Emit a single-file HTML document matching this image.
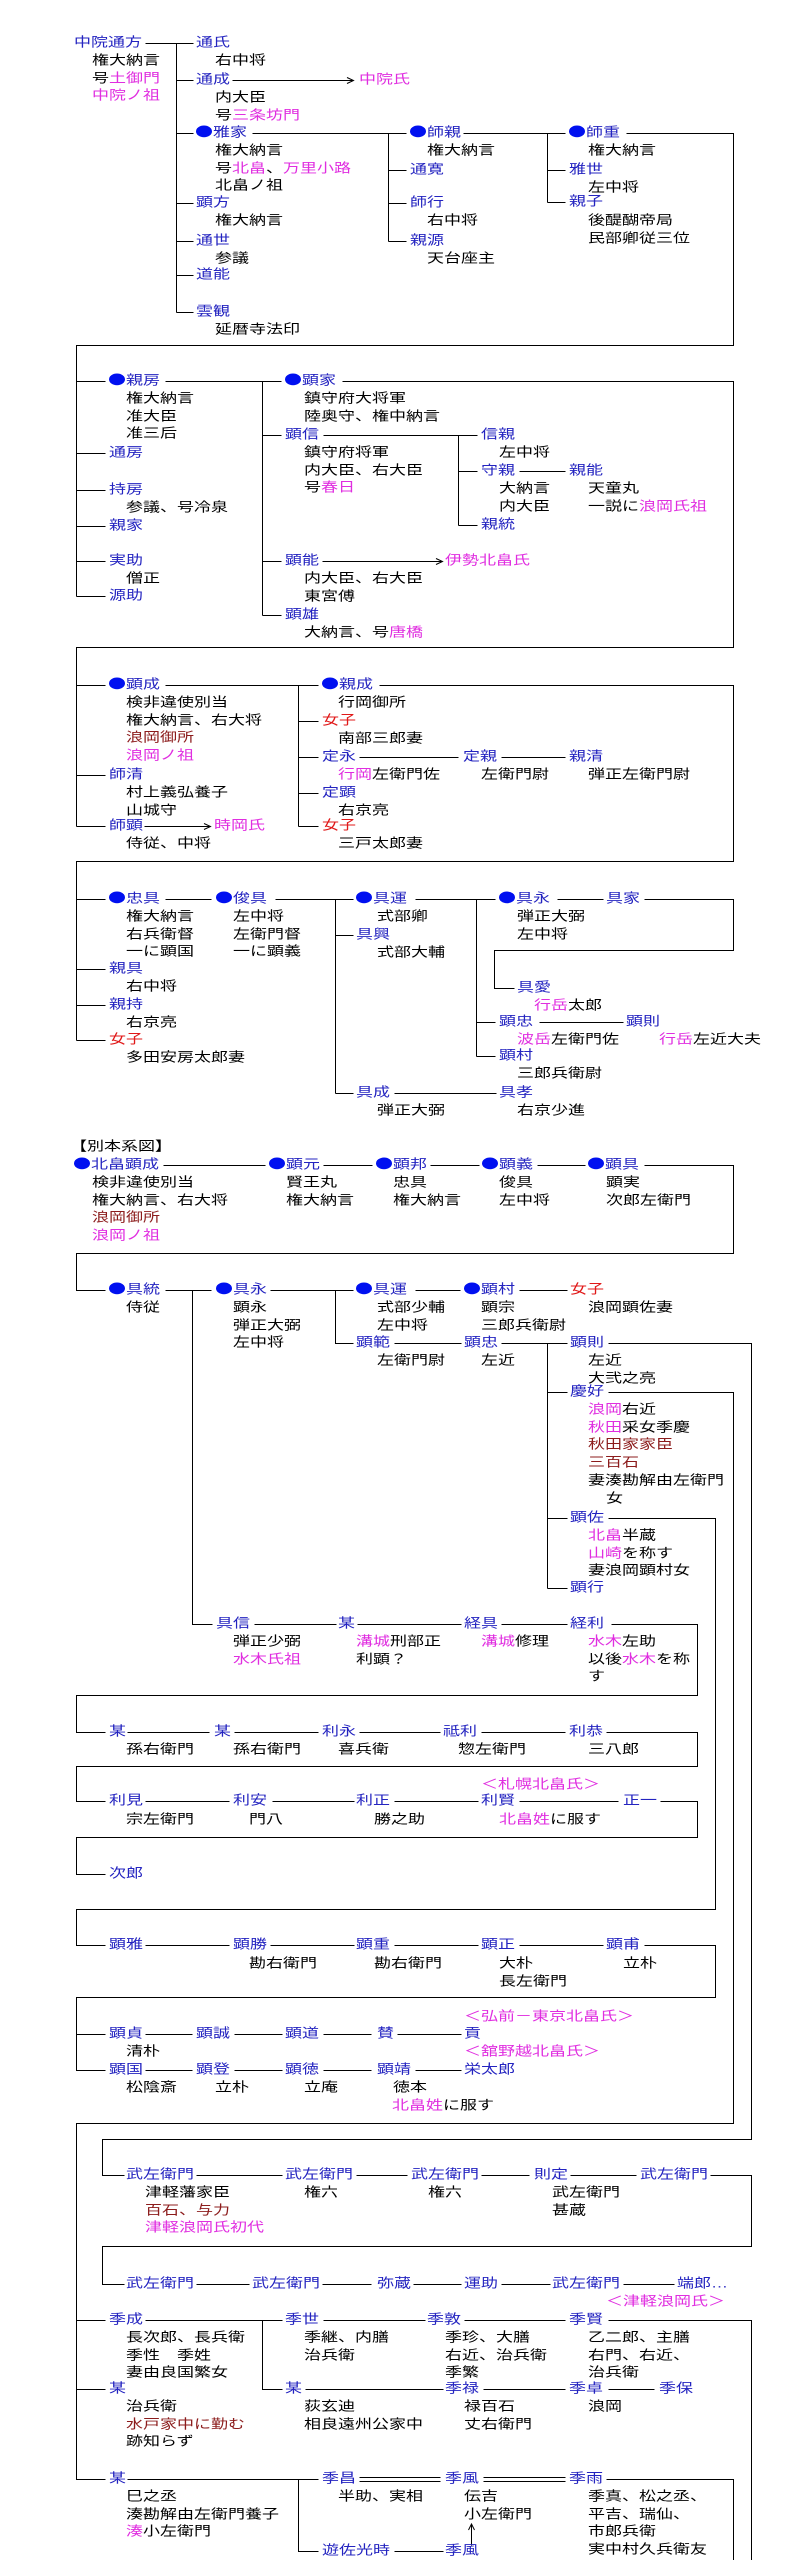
<!DOCTYPE html>
<html><head><meta charset="utf-8">
<style>
html,body{margin:0;padding:0;background:#fff}
#c{position:relative;width:794px;height:2560px;overflow:hidden;background:#fff}
svg{position:absolute;left:0;top:0}
.t{position:absolute;font-size:17px;line-height:22.7px;font-family:"Liberation Sans","Noto Sans CJK JP",sans-serif;transform:scaleY(.78);transform-origin:0 0;white-space:nowrap;color:#000}
.b{color:#2424c0}
.m{color:#e02ee0}
.r{color:#e01818}
.d{color:#8c1c1c}
span.m{color:#e02ee0}
span.d{color:#8c1c1c}
i.o{display:inline-block;width:16px;height:15px;border-radius:50%;background:#0010f0;vertical-align:-1px;margin-right:1px}
</style></head>
<body><div id="c">
<svg width="794" height="2560" viewBox="0 0 794 2560">
<g transform="translate(.5 .5)" stroke="#000" stroke-width="1" fill="none" shape-rendering="crispEdges">
<path d="M145 43H193 M176 43V312 M176 80H193 M176 133H193 M176 203H193 M176 241H193 M176 275H193 M176 312H193
M232 80H353
M252 133H406 M388 133V241 M388 170H406 M388 203H406 M388 241H406
M463 133H565 M547 133V202 M547 170H565 M547 202H565
M626 133H733V345H76V596
M76 381H105 M76 453H105 M76 490H105 M76 526H105 M76 561H105 M76 596H105
M165 381H281 M262 381V615 M262 435H281 M262 561H281 M262 615H281
M342 381H733V647H76V826
M323 435H477 M458 435V525 M458 471H477 M458 525H477
M519 471H565
M322 561H442
M76 685H105 M76 775H105 M76 826H105
M165 685H318 M298 685V826 M298 721H318 M298 757H318 M298 793H318 M298 826H318
M144 826H210
M379 685H733V861H76V1040
M359 757H458 M501 757H565
M76 899H105 M76 969H105 M76 1005H105 M76 1040H105
M165 899H211
M275 899H353 M335 899V1093 M335 935H353 M335 1093H353
M415 899H495 M476 899V1056 M476 1022H495 M476 1056H495
M557 899H603
M644 899H733V950H494V988H514
M539 1022H623
M394 1093H496
M163 1165H265 M323 1165H372 M430 1165H479 M537 1165H585 M644 1165H733V1253H76V1290H105
M165 1290H211 M192 1290V1624H212 M270 1290H353 M335 1290V1343H353 M415 1290H460 M519 1290H567
M394 1343H461 M501 1343H567 M547 1343V1588 M547 1392H567 M547 1518H567 M547 1588H567
M608 1343H751V2139H102V2175H124
M608 1392H733V2123H76V2479H105
M608 1518H715V1909H76V1945H105
M254 1624H336 M357 1624H461 M501 1624H567 M611 1624H697V1695H76V1732H105
M127 1732H209 M234 1732H318 M359 1732H440 M481 1732H565 M606 1732H697V1766H76V1801H105
M145 1801H229 M272 1801H354 M394 1801H478 M519 1801H618 M660 1801H697V1837H76V1874H105
M145 1945H229 M270 1945H354 M394 1945H478 M519 1945H603 M644 1945H715V1997H76V2070H105 M76 2034H105
M145 2034H192 M234 2034H282 M323 2034H371 M397 2034H461
M145 2070H192 M234 2070H282 M323 2070H371 M415 2070H461
M196 2175H282 M356 2175H407 M481 2175H529 M570 2175H636 M710 2175H751V2246H102V2284H124
M196 2284H249 M322 2284H371 M413 2284H461 M501 2284H550 M623 2284H674
M76 2320H105 M145 2320H282 M262 2320V2389H282 M323 2320H425 M464 2320H565 M608 2320H751V2560
M76 2389H105 M305 2389H443 M483 2389H565 M608 2389H654
M76 2479H105
M127 2479H318 M298 2479V2551H318
M359 2477H440 M359 2481H440 M483 2477H565 M483 2481H565
M606 2479H733V2560
M394 2551H443
M471 2545V2524"/>
</g>
<g stroke="#000" stroke-width="1" fill="none">
<path d="M347 77.5L353.5 80.5L347 83.5"/>
<path d="M436 558.5L442.5 561.5L436 564.5"/>
<path d="M204 823.5L210.5 826.5L204 829.5"/>
<path d="M468.5 2530L471.5 2524L474.5 2530"/>
</g>
</svg>

<!-- Section 1 -->
<div class="t b" style="left:74px;top:34px">中院通方</div>
<div class="t" style="left:92px;top:52px">権大納言<br>号<span class="m">土御門</span><br><span class="m">中院ノ祖</span></div>
<div class="t b" style="left:196px;top:34px">通氏</div>
<div class="t" style="left:215px;top:52px">右中将</div>
<div class="t b" style="left:196px;top:71px">通成</div>
<div class="t" style="left:215px;top:89px">内大臣<br>号<span class="m">三条坊門</span></div>
<div class="t m" style="left:359px;top:71px">中院氏</div>
<div class="t b" style="left:196px;top:124px"><i class="o"></i>雅家</div>
<div class="t" style="left:215px;top:142px">権大納言<br>号<span class="m">北畠</span>、<span class="m">万里小路</span><br>北畠ノ祖</div>
<div class="t b" style="left:196px;top:194px">顕方</div>
<div class="t" style="left:215px;top:212px">権大納言</div>
<div class="t b" style="left:196px;top:232px">通世</div>
<div class="t" style="left:215px;top:250px">参議</div>
<div class="t b" style="left:196px;top:266px">道能</div>
<div class="t b" style="left:196px;top:303px">雲観</div>
<div class="t" style="left:215px;top:321px">延暦寺法印</div>
<div class="t b" style="left:410px;top:124px"><i class="o"></i>師親</div>
<div class="t" style="left:427px;top:142px">権大納言</div>
<div class="t b" style="left:410px;top:161px">通寛</div>
<div class="t b" style="left:410px;top:194px">師行</div>
<div class="t" style="left:427px;top:212px">右中将</div>
<div class="t b" style="left:410px;top:232px">親源</div>
<div class="t" style="left:427px;top:250px">天台座主</div>
<div class="t b" style="left:569px;top:124px"><i class="o"></i>師重</div>
<div class="t" style="left:588px;top:142px">権大納言</div>
<div class="t b" style="left:569px;top:161px">雅世</div>
<div class="t" style="left:588px;top:179px">左中将</div>
<div class="t b" style="left:569px;top:193px">親子</div>
<div class="t" style="left:588px;top:212px">後醍醐帝局<br>民部卿従三位</div>

<!-- Section 2 -->
<div class="t b" style="left:109px;top:372px"><i class="o"></i>親房</div>
<div class="t" style="left:126px;top:390px">権大納言<br>准大臣<br>准三后</div>
<div class="t b" style="left:109px;top:444px">通房</div>
<div class="t b" style="left:109px;top:481px">持房</div>
<div class="t" style="left:126px;top:499px">参議、号冷泉</div>
<div class="t b" style="left:109px;top:517px">親家</div>
<div class="t b" style="left:109px;top:552px">実助</div>
<div class="t" style="left:126px;top:570px">僧正</div>
<div class="t b" style="left:109px;top:587px">源助</div>
<div class="t b" style="left:285px;top:372px"><i class="o"></i>顕家</div>
<div class="t" style="left:304px;top:390px">鎮守府大将軍<br>陸奥守、権中納言</div>
<div class="t b" style="left:285px;top:426px">顕信</div>
<div class="t" style="left:304px;top:444px">鎮守府将軍<br>内大臣、右大臣<br>号<span class="m">春日</span></div>
<div class="t b" style="left:481px;top:426px">信親</div>
<div class="t" style="left:499px;top:444px">左中将</div>
<div class="t b" style="left:481px;top:462px">守親</div>
<div class="t" style="left:499px;top:480px">大納言<br>内大臣</div>
<div class="t b" style="left:569px;top:462px">親能</div>
<div class="t" style="left:588px;top:480px">天童丸<br>一説に<span class="m">浪岡氏祖</span></div>
<div class="t b" style="left:481px;top:516px">親統</div>
<div class="t b" style="left:285px;top:552px">顕能</div>
<div class="t" style="left:304px;top:570px">内大臣、右大臣<br>東宮傅</div>
<div class="t m" style="left:445px;top:552px">伊勢北畠氏</div>
<div class="t b" style="left:285px;top:606px">顕雄</div>
<div class="t" style="left:304px;top:624px">大納言、号<span class="m">唐橋</span></div>

<!-- Section 3 -->
<div class="t b" style="left:109px;top:676px"><i class="o"></i>顕成</div>
<div class="t" style="left:126px;top:694px">検非違使別当<br>権大納言、右大将<br><span class="d">浪岡御所</span><br><span class="m">浪岡ノ祖</span></div>
<div class="t b" style="left:109px;top:766px">師清</div>
<div class="t" style="left:126px;top:784px">村上義弘養子<br>山城守</div>
<div class="t b" style="left:109px;top:817px">師顕</div>
<div class="t" style="left:126px;top:835px">侍従、中将</div>
<div class="t m" style="left:214px;top:817px">時岡氏</div>
<div class="t b" style="left:322px;top:676px"><i class="o"></i>親成</div>
<div class="t" style="left:338px;top:694px">行岡御所</div>
<div class="t r" style="left:322px;top:712px">女子</div>
<div class="t" style="left:338px;top:730px">南部三郎妻</div>
<div class="t b" style="left:322px;top:748px">定永</div>
<div class="t" style="left:338px;top:766px"><span class="m">行岡</span>左衛門佐</div>
<div class="t b" style="left:463px;top:748px">定親</div>
<div class="t" style="left:481px;top:766px">左衛門尉</div>
<div class="t b" style="left:569px;top:748px">親清</div>
<div class="t" style="left:588px;top:766px">弾正左衛門尉</div>
<div class="t b" style="left:322px;top:784px">定顕</div>
<div class="t" style="left:338px;top:802px">右京亮</div>
<div class="t r" style="left:322px;top:817px">女子</div>
<div class="t" style="left:338px;top:835px">三戸太郎妻</div>

<!-- Section 4 -->
<div class="t b" style="left:109px;top:890px"><i class="o"></i>忠具</div>
<div class="t" style="left:126px;top:908px">権大納言<br>右兵衛督<br>一に顕国</div>
<div class="t b" style="left:216px;top:890px"><i class="o"></i>俊具</div>
<div class="t" style="left:233px;top:908px">左中将<br>左衛門督<br>一に顕義</div>
<div class="t b" style="left:109px;top:960px">親具</div>
<div class="t" style="left:126px;top:978px">右中将</div>
<div class="t b" style="left:109px;top:996px">親持</div>
<div class="t" style="left:126px;top:1014px">右京亮</div>
<div class="t r" style="left:109px;top:1031px">女子</div>
<div class="t" style="left:126px;top:1049px">多田安房太郎妻</div>
<div class="t b" style="left:356px;top:890px"><i class="o"></i>具運</div>
<div class="t" style="left:377px;top:908px">式部卿</div>
<div class="t b" style="left:356px;top:926px">具興</div>
<div class="t" style="left:377px;top:944px">式部大輔</div>
<div class="t b" style="left:499px;top:890px"><i class="o"></i>具永</div>
<div class="t" style="left:517px;top:908px">弾正大弼<br>左中将</div>
<div class="t b" style="left:606px;top:890px">具家</div>
<div class="t b" style="left:517px;top:979px">具愛</div>
<div class="t" style="left:534px;top:997px"><span class="m">行岳</span>太郎</div>
<div class="t b" style="left:499px;top:1013px">顕忠</div>
<div class="t" style="left:517px;top:1031px"><span class="m">波岳</span>左衛門佐</div>
<div class="t b" style="left:626px;top:1013px">顕則</div>
<div class="t" style="left:659px;top:1031px"><span class="m">行岳</span>左近大夫</div>
<div class="t b" style="left:499px;top:1047px">顕村</div>
<div class="t" style="left:517px;top:1065px">三郎兵衛尉</div>
<div class="t b" style="left:356px;top:1084px">具成</div>
<div class="t" style="left:377px;top:1102px">弾正大弼</div>
<div class="t b" style="left:499px;top:1084px">具孝</div>
<div class="t" style="left:517px;top:1102px">右京少進</div>

<!-- Section 5 -->
<div class="t" style="left:70px;top:1138px">【別本系図】</div>
<div class="t b" style="left:74px;top:1156px"><i class="o"></i>北畠顕成</div>
<div class="t" style="left:92px;top:1174px">検非違使別当<br>権大納言、右大将<br><span class="d">浪岡御所</span><br><span class="m">浪岡ノ祖</span></div>
<div class="t b" style="left:269px;top:1156px"><i class="o"></i>顕元</div>
<div class="t" style="left:286px;top:1174px">賢王丸<br>権大納言</div>
<div class="t b" style="left:376px;top:1156px"><i class="o"></i>顕邦</div>
<div class="t" style="left:393px;top:1174px">忠具<br>権大納言</div>
<div class="t b" style="left:482px;top:1156px"><i class="o"></i>顕義</div>
<div class="t" style="left:499px;top:1174px">俊具<br>左中将</div>
<div class="t b" style="left:588px;top:1156px"><i class="o"></i>顕具</div>
<div class="t" style="left:606px;top:1174px">顕実<br>次郎左衛門</div>

<!-- Section 6 -->
<div class="t b" style="left:109px;top:1281px"><i class="o"></i>具統</div>
<div class="t" style="left:126px;top:1299px">侍従</div>
<div class="t b" style="left:216px;top:1281px"><i class="o"></i>具永</div>
<div class="t" style="left:233px;top:1299px">顕永<br>弾正大弼<br>左中将</div>
<div class="t b" style="left:356px;top:1281px"><i class="o"></i>具運</div>
<div class="t" style="left:377px;top:1299px">式部少輔<br>左中将</div>
<div class="t b" style="left:464px;top:1281px"><i class="o"></i>顕村</div>
<div class="t" style="left:481px;top:1299px">顕宗<br>三郎兵衛尉</div>
<div class="t r" style="left:570px;top:1281px">女子</div>
<div class="t" style="left:588px;top:1299px">浪岡顕佐妻</div>
<div class="t b" style="left:356px;top:1334px">顕範</div>
<div class="t" style="left:377px;top:1352px">左衛門尉</div>
<div class="t b" style="left:464px;top:1334px">顕忠</div>
<div class="t" style="left:481px;top:1352px">左近</div>
<div class="t b" style="left:570px;top:1334px">顕則</div>
<div class="t" style="left:588px;top:1352px">左近<br>大弐之亮</div>
<div class="t b" style="left:570px;top:1383px">慶好</div>
<div class="t" style="left:588px;top:1401px"><span class="m">浪岡</span>右近<br><span class="m">秋田</span>采女季慶<br><span class="d">秋田家家臣</span><br><span class="d">三百石</span><br>妻湊勘解由左衛門</div>
<div class="t" style="left:606px;top:1490px">女</div>
<div class="t b" style="left:570px;top:1509px">顕佐</div>
<div class="t" style="left:588px;top:1527px"><span class="m">北畠</span>半蔵<br><span class="m">山崎</span>を称す<br>妻浪岡顕村女</div>
<div class="t b" style="left:570px;top:1579px">顕行</div>
<div class="t b" style="left:216px;top:1615px">具信</div>
<div class="t" style="left:233px;top:1633px">弾正少弼<br><span class="m">水木氏祖</span></div>
<div class="t b" style="left:338px;top:1615px">某</div>
<div class="t" style="left:356px;top:1633px"><span class="m">溝城</span>刑部正<br>利顕？</div>
<div class="t b" style="left:464px;top:1615px">経具</div>
<div class="t" style="left:481px;top:1633px"><span class="m">溝城</span>修理</div>
<div class="t b" style="left:570px;top:1615px">経利</div>
<div class="t" style="left:588px;top:1633px"><span class="m">水木</span>左助<br>以後<span class="m">水木</span>を称<br>す</div>

<!-- Section 7 -->
<div class="t b" style="left:109px;top:1723px">某</div>
<div class="t" style="left:126px;top:1741px">孫右衛門</div>
<div class="t b" style="left:214px;top:1723px">某</div>
<div class="t" style="left:233px;top:1741px">孫右衛門</div>
<div class="t b" style="left:322px;top:1723px">利永</div>
<div class="t" style="left:338px;top:1741px">喜兵衛</div>
<div class="t b" style="left:443px;top:1723px">祗利</div>
<div class="t" style="left:458px;top:1741px">惣左衛門</div>
<div class="t b" style="left:569px;top:1723px">利恭</div>
<div class="t" style="left:588px;top:1741px">三八郎</div>
<div class="t m" style="left:481px;top:1776px">＜札幌北畠氏＞</div>
<div class="t b" style="left:109px;top:1792px">利見</div>
<div class="t" style="left:126px;top:1811px">宗左衛門</div>
<div class="t b" style="left:233px;top:1792px">利安</div>
<div class="t" style="left:249px;top:1811px">門八</div>
<div class="t b" style="left:356px;top:1792px">利正</div>
<div class="t" style="left:374px;top:1811px">勝之助</div>
<div class="t b" style="left:481px;top:1792px">利賢</div>
<div class="t" style="left:499px;top:1811px"><span class="m">北畠姓</span>に服す</div>
<div class="t b" style="left:623px;top:1792px">正一</div>
<div class="t b" style="left:109px;top:1865px">次郎</div>

<!-- Section 8 -->
<div class="t b" style="left:109px;top:1936px">顕雅</div>
<div class="t b" style="left:233px;top:1936px">顕勝</div>
<div class="t" style="left:249px;top:1955px">勘右衛門</div>
<div class="t b" style="left:356px;top:1936px">顕重</div>
<div class="t" style="left:374px;top:1955px">勘右衛門</div>
<div class="t b" style="left:481px;top:1936px">顕正</div>
<div class="t" style="left:499px;top:1955px">大朴<br>長左衛門</div>
<div class="t b" style="left:606px;top:1936px">顕甫</div>
<div class="t" style="left:623px;top:1955px">立朴</div>
<div class="t m" style="left:464px;top:2008px">＜弘前－東京北畠氏＞</div>
<div class="t b" style="left:109px;top:2025px">顕貞</div>
<div class="t" style="left:126px;top:2043px">清朴</div>
<div class="t b" style="left:196px;top:2025px">顕誠</div>
<div class="t b" style="left:285px;top:2025px">顕道</div>
<div class="t b" style="left:377px;top:2025px">賛</div>
<div class="t b" style="left:464px;top:2025px">貢</div>
<div class="t m" style="left:464px;top:2043px">＜舘野越北畠氏＞</div>
<div class="t b" style="left:109px;top:2061px">顕国</div>
<div class="t" style="left:126px;top:2079px">松陰斎</div>
<div class="t b" style="left:196px;top:2061px">顕登</div>
<div class="t" style="left:215px;top:2079px">立朴</div>
<div class="t b" style="left:285px;top:2061px">顕徳</div>
<div class="t" style="left:304px;top:2079px">立庵</div>
<div class="t b" style="left:377px;top:2061px">顕靖</div>
<div class="t" style="left:393px;top:2079px">徳本</div>
<div class="t" style="left:392px;top:2097px"><span class="m">北畠姓</span>に服す</div>
<div class="t b" style="left:464px;top:2061px">栄太郎</div>

<!-- Section 9 -->
<div class="t b" style="left:126px;top:2166px">武左衛門</div>
<div class="t" style="left:145px;top:2184px">津軽藩家臣<br><span class="d">百石、与力</span><br><span class="m">津軽浪岡氏初代</span></div>
<div class="t b" style="left:285px;top:2166px">武左衛門</div>
<div class="t" style="left:304px;top:2184px">権六</div>
<div class="t b" style="left:411px;top:2166px">武左衛門</div>
<div class="t" style="left:428px;top:2184px">権六</div>
<div class="t b" style="left:534px;top:2166px">則定</div>
<div class="t" style="left:552px;top:2184px">武左衛門<br>甚蔵</div>
<div class="t b" style="left:640px;top:2166px">武左衛門</div>
<div class="t b" style="left:126px;top:2275px">武左衛門</div>
<div class="t b" style="left:252px;top:2275px">武左衛門</div>
<div class="t b" style="left:377px;top:2275px">弥蔵</div>
<div class="t b" style="left:464px;top:2275px">運助</div>
<div class="t b" style="left:552px;top:2275px">武左衛門</div>
<div class="t b" style="left:677px;top:2275px">端郎…</div>
<div class="t m" style="left:606px;top:2293px">＜津軽浪岡氏＞</div>

<!-- Section 10 -->
<div class="t b" style="left:109px;top:2311px">季成</div>
<div class="t" style="left:126px;top:2329px">長次郎、長兵衛<br>季性　季姓<br>妻由良国繁女</div>
<div class="t b" style="left:285px;top:2311px">季世</div>
<div class="t" style="left:304px;top:2329px">季継、内膳<br>治兵衛</div>
<div class="t b" style="left:427px;top:2311px">季敦</div>
<div class="t" style="left:445px;top:2329px">季珍、大膳<br>右近、治兵衛<br>季繁</div>
<div class="t b" style="left:569px;top:2311px">季賢</div>
<div class="t" style="left:588px;top:2329px">乙二郎、主膳<br>右門、右近、<br>治兵衛</div>
<div class="t b" style="left:109px;top:2380px">某</div>
<div class="t" style="left:126px;top:2398px">治兵衛<br><span class="d">水戸家中に勤む</span><br>跡知らず</div>
<div class="t b" style="left:285px;top:2380px">某</div>
<div class="t" style="left:304px;top:2398px">荻玄迪<br>相良遠州公家中</div>
<div class="t b" style="left:445px;top:2380px">季禄</div>
<div class="t" style="left:464px;top:2398px">禄百石<br>丈右衛門</div>
<div class="t b" style="left:569px;top:2380px">季卓</div>
<div class="t" style="left:588px;top:2398px">浪岡</div>
<div class="t b" style="left:659px;top:2380px">季保</div>
<div class="t b" style="left:109px;top:2470px">某</div>
<div class="t" style="left:126px;top:2488px">巳之丞<br>湊勘解由左衛門養子<br><span class="m">湊</span>小左衛門</div>
<div class="t b" style="left:322px;top:2470px">季昌</div>
<div class="t" style="left:338px;top:2488px">半助、実相</div>
<div class="t b" style="left:445px;top:2470px">季風</div>
<div class="t" style="left:464px;top:2488px">伝吉<br>小左衛門</div>
<div class="t b" style="left:569px;top:2470px">季雨</div>
<div class="t" style="left:588px;top:2488px">季真、松之丞、<br>平吉、瑞仙、<br>市郎兵衛<br>実中村久兵衛友</div>
<div class="t b" style="left:322px;top:2542px">遊佐光時</div>
<div class="t b" style="left:445px;top:2542px">季風</div>
</div></body></html>
